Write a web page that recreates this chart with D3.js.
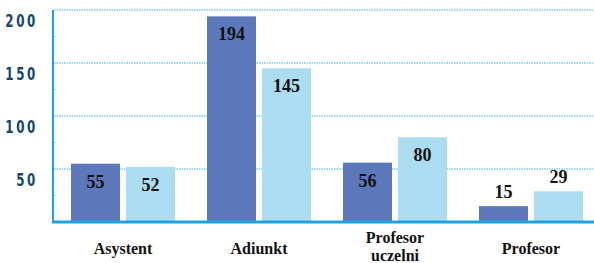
<!DOCTYPE html>
<html>
<head>
<meta charset="utf-8">
<script src="https://cdn.jsdelivr.net/npm/d3@7"></script>
<style>
  body { margin: 0; background: #fff; }
  svg { display: block; }
</style>
</head>
<body>
<div id="chart"></div>
<script>
var categories = ["Asystent", "Adiunkt", "Profesor uczelni", "Profesor"];
var seriesA = [55, 194, 56, 15];
var seriesB = [52, 145, 80, 29];
var yTicks = [50, 100, 150, 200];

var w = 594, h = 263;
var serif = "'Liberation Serif', 'DejaVu Serif', 'Times New Roman', serif";
var svg = d3.select("#chart").append("svg")
    .attr("width", w)
    .attr("height", h);

var x0 = d3.scaleBand()
    .domain(categories)
    .range([55, 599])
    .padding(0);

var x1 = d3.scaleBand()
    .domain(["a", "b"])
    .range([16, 120])
    .paddingInner(0.11);

var y = d3.scaleLinear()
    .domain([0, 200])
    .range([222, 10]);

// gridlines
svg.append("g")
    .selectAll("line")
    .data(yTicks)
    .enter()
    .append("line")
    .attr("x1", 54)
    .attr("x2", 594)
    .attr("y1", d => y(d))
    .attr("y2", d => y(d))
    .attr("stroke", "#3bb0e6")
    .attr("stroke-width", 1)
    .attr("stroke-dasharray", "1.5,1");

// y axis line + minor ticks
svg.append("line")
    .attr("x1", 53).attr("x2", 53)
    .attr("y1", y(200)).attr("y2", y(0))
    .attr("stroke", "#1ea3e0")
    .attr("stroke-width", 2);

svg.append("g")
    .selectAll("line")
    .data([25, 75, 125, 175])
    .enter()
    .append("line")
    .attr("x1", 54).attr("x2", 56)
    .attr("y1", d => y(d)).attr("y2", d => y(d))
    .attr("stroke", "#a9def5")
    .attr("stroke-width", 1);

// y tick labels (sit a little below their gridline), narrow + spaced
svg.append("g")
    .selectAll("text")
    .data(yTicks)
    .enter()
    .append("text")
    .attr("transform", d => `translate(38,${y(d) + 17}) scale(0.66,1)`)
    .attr("text-anchor", "end")
    .style("font-family", "'DejaVu Sans', sans-serif")
    .style("font-weight", "bold")
    .style("font-size", "18px")
    .style("letter-spacing", "4px")
    .style("fill", "#14466e")
    .text(d => d);

// bars
var rows = categories.map((c, i) => ({ cat: c, vals: [{ k: "a", v: seriesA[i] }, { k: "b", v: seriesB[i] }] }));
var color = { a: "#5c78bb", b: "#acdcef" };

var groups = svg.selectAll(".grp")
    .data(rows)
    .enter()
    .append("g")
    .attr("transform", d => `translate(${x0(d.cat)},0)`);

groups.selectAll("rect")
    .data(d => d.vals)
    .enter()
    .append("rect")
    .attr("x", d => x1(d.k))
    .attr("y", d => y(d.v))
    .attr("width", x1.bandwidth())
    .attr("height", d => y(0) - y(d.v))
    .attr("fill", d => color[d.k]);

groups.selectAll("text")
    .data(d => d.vals)
    .enter()
    .append("text")
    .attr("x", d => x1(d.k) + x1.bandwidth() / 2)
    .attr("y", d => (y(0) - y(d.v) > 40) ? y(d.v) + 24 : y(d.v) - 8)
    .attr("text-anchor", "middle")
    .style("font-family", serif)
    .style("font-weight", "bold")
    .style("font-size", "18px")
    .style("fill", "#111")
    .text(d => d.v);

// baseline
svg.append("line")
    .attr("x1", 52).attr("x2", 594)
    .attr("y1", y(0)).attr("y2", y(0))
    .attr("stroke", "#1ea3e0")
    .attr("stroke-width", 3);

// category labels, one text per line
var lines = [];
categories.forEach(c => {
    var words = c.split(" ");
    words.forEach((wd, i) => {
        lines.push({ cat: c, word: wd, y: words.length > 1 ? 243 + i * 18 : 254 });
    });
});

svg.append("g")
    .selectAll("text")
    .data(lines)
    .enter()
    .append("text")
    .attr("x", d => x0(d.cat) + x0.bandwidth() / 2)
    .attr("y", d => d.y)
    .attr("text-anchor", "middle")
    .style("font-family", serif)
    .style("font-weight", "bold")
    .style("font-size", "16px")
    .style("fill", "#111")
    .text(d => d.word);
</script>
</body>
</html>
